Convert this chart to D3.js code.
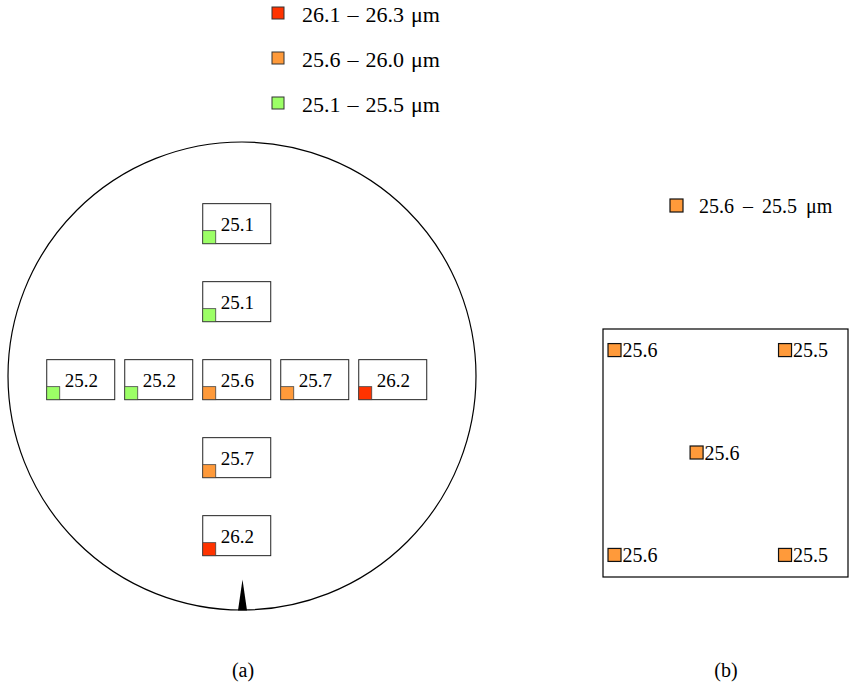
<!DOCTYPE html>
<html>
<head>
<meta charset="utf-8">
<script src="https://cdn.jsdelivr.net/npm/d3@7"></script>
<style>
  html, body { margin: 0; padding: 0; background: #fff; }
  svg { display: block; }
  svg text { font-family: 'Liberation Serif', serif !important; }
</style>
</head>
<body>
<svg id="chart" width="849" height="685"></svg>
<script>
// ---- Data ----
// Legend bins for panel (a)
const binLabels = ["26.1 \u2013 26.3 \u03bcm", "25.6 \u2013 26.0 \u03bcm", "25.1 \u2013 25.5 \u03bcm"];
const binThresholds = [25.55, 26.05];
// Panel (a): wafer measurement points (mm from wafer centre) and values (μm)
const waferX = [-21, -21, -121, -71, -21, 29, 79, -21, -21];
const waferY = [89, 39, -11, -11, -11, -11, -11, -61, -111];
const waferValues = [25.1, 25.1, 25.2, 25.2, 25.6, 25.7, 26.2, 25.7, 26.2];
// Panel (b): sample measurement points (% of sample width/height) and values (μm)
const sampleX = [4.7, 74.3, 38.2, 4.7, 74.3];
const sampleY = [8.5, 8.5, 49.8, 91.1, 91.1];
const sampleValues = [25.6, 25.5, 25.6, 25.6, 25.5];
const sampleLegend = "25.6 \u2013 25.5 \u03bcm";
const captions = ["(a)", "(b)"];

// ---- Styles ----
const FONT = "'Liberation Serif', serif";
const colRed = "#ff3300", colOrange = "#ff9a3a", colGreen = "#9cff66";
const binColorsLegend = [colRed, colOrange, colGreen];
const color = d3.scaleThreshold().domain(binThresholds).range([colGreen, colOrange, colRed]);

const svg = d3.select("#chart");
function serif(sel) { return sel.style("font-family", FONT, "important"); }

// ---- Panel (a) ----
const cx = 242, cy = 376, R = 234;
const xa = d3.scaleLinear().domain([-150, 150]).range([cx - R, cx + R]);
const ya = d3.scaleLinear().domain([-150, 150]).range([cy + R, cy - R]);

svg.append("circle").attr("cx", xa(0)).attr("cy", ya(0)).attr("r", xa(150) - xa(0))
  .attr("fill", "none").attr("stroke", "#000").attr("stroke-width", 1.2);

// notch
const notchBaseY = ya(-150) + 0.5;
svg.append("path")
  .attr("d", `M${xa(0) - 4},${notchBaseY} L${xa(0) + 0.5},${notchBaseY - 31} L${xa(0) + 5},${notchBaseY} Z`)
  .attr("fill", "#000");

const sq = 13, boxW = 68, boxH = 40;
const waferData = waferValues.map((v, i) => ({ v, x: waferX[i], y: waferY[i] }));
const gA = svg.append("g");
const pts = gA.selectAll("g.pt").data(waferData).join("g").attr("class", "pt");
pts.append("rect")
  .attr("x", d => xa(d.x) - sq / 2)
  .attr("y", d => ya(d.y) + sq / 2 - boxH)
  .attr("width", boxW).attr("height", boxH)
  .attr("fill", "#fff").attr("stroke", "#222").attr("stroke-width", 1);
pts.append("rect")
  .attr("x", d => xa(d.x) - sq / 2)
  .attr("y", d => ya(d.y) - sq / 2)
  .attr("width", sq).attr("height", sq)
  .attr("fill", d => color(d.v)).attr("stroke", "#444").attr("stroke-width", 0.8);
serif(pts.append("text"))
  .attr("x", d => xa(d.x) + 11.5)
  .attr("y", d => ya(d.y) - 6)
  .attr("font-size", 19).attr("fill", "#000")
  .text(d => d3.format(".1f")(d.v));

// legend (a)
const legA = svg.append("g").selectAll("g").data(binLabels).join("g")
  .attr("transform", (d, i) => `translate(272,${7 + i * 45})`);
legA.append("rect").attr("width", 12).attr("height", 12)
  .attr("fill", (d, i) => binColorsLegend[i]).attr("stroke", "#333").attr("stroke-width", 1);
serif(legA.append("text")).attr("x", 30).attr("y", 14.5).attr("font-size", 22).attr("fill", "#000")
  .attr("word-spacing", 1.5)
  .text(d => d);

// ---- Panel (b) ----
const xb = d3.scaleLinear().domain([0, 100]).range([603, 848]);
const yb = d3.scaleLinear().domain([0, 100]).range([329, 577]);
svg.append("rect").attr("x", xb(0)).attr("y", yb(0))
  .attr("width", xb(100) - xb(0)).attr("height", yb(100) - yb(0))
  .attr("fill", "none").attr("stroke", "#000").attr("stroke-width", 1.2);

const sampleData = sampleValues.map((v, i) => ({ v, x: sampleX[i], y: sampleY[i] }));
const ptsB = svg.append("g").selectAll("g").data(sampleData).join("g");
ptsB.append("rect")
  .attr("x", d => xb(d.x) - sq / 2).attr("y", d => yb(d.y) - sq / 2)
  .attr("width", sq).attr("height", sq)
  .attr("fill", colOrange).attr("stroke", "#111").attr("stroke-width", 1.2);
serif(ptsB.append("text"))
  .attr("x", d => xb(d.x) + sq / 2 + 1.5).attr("y", d => yb(d.y) + 7)
  .attr("font-size", 20).attr("fill", "#000")
  .text(d => d3.format(".1f")(d.v));

// legend (b)
const legB = svg.append("g").attr("transform", "translate(670,199)");
legB.append("rect").attr("width", 13).attr("height", 13)
  .attr("fill", colOrange).attr("stroke", "#111").attr("stroke-width", 1.2);
serif(legB.append("text")).attr("x", 29).attr("y", 14).attr("font-size", 20).attr("fill", "#000")
  .attr("word-spacing", 4)
  .text(sampleLegend);

// captions
serif(svg.append("g").selectAll("text").data(captions).join("text"))
  .attr("x", (d, i) => [243, 726][i]).attr("y", 677)
  .attr("text-anchor", "middle").attr("font-size", 20).attr("fill", "#000")
  .text(d => d);
</script>
</body>
</html>
